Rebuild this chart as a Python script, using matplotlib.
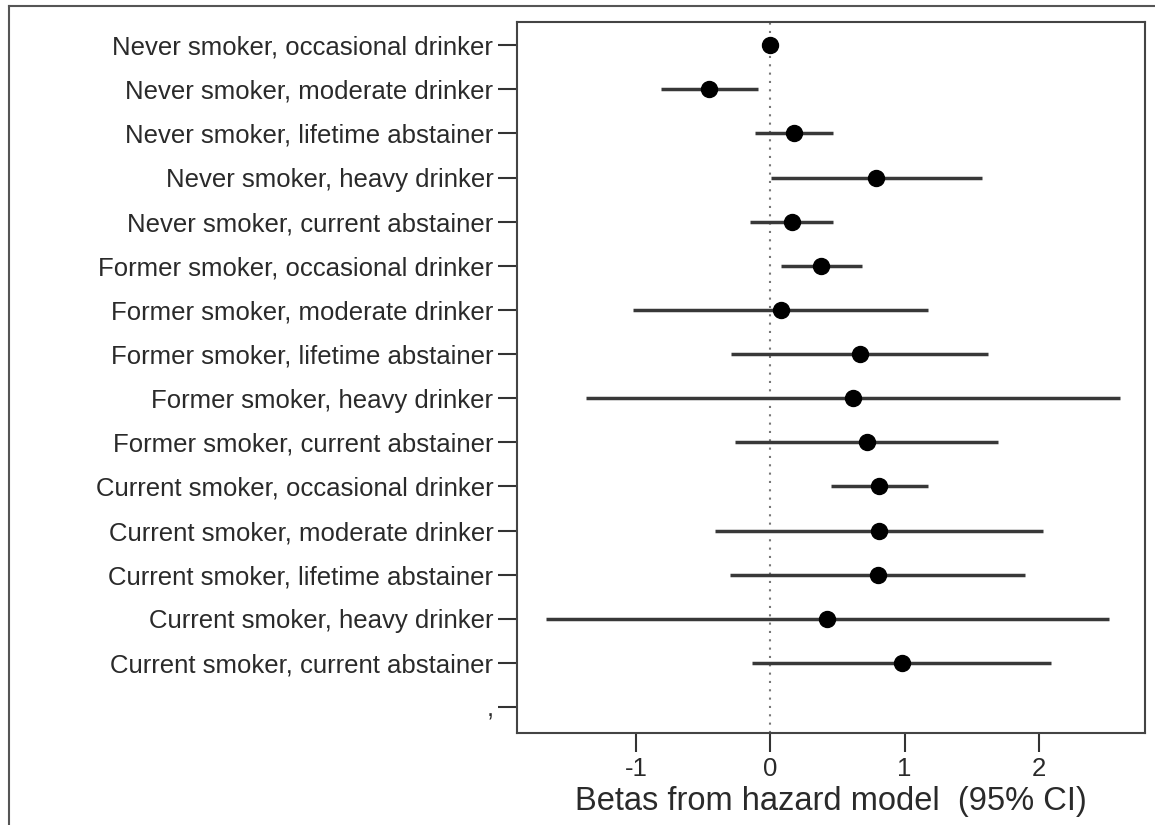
import numpy as np
import matplotlib.pyplot as plt
from matplotlib.lines import Line2D

plt.rcParams['font.family'] = ['Liberation Sans', 'DejaVu Sans']

# 범주 (위에서 아래 순서)
labels = ['Never smoker, occasional drinker',
          'Never smoker, moderate drinker',
          'Never smoker, lifetime abstainer',
          'Never smoker, heavy drinker',
          'Never smoker, current abstainer',
          'Former smoker, occasional drinker',
          'Former smoker, moderate drinker',
          'Former smoker, lifetime abstainer',
          'Former smoker, heavy drinker',
          'Former smoker, current abstainer',
          'Current smoker, occasional drinker',
          'Current smoker, moderate drinker',
          'Current smoker, lifetime abstainer',
          'Current smoker, heavy drinker',
          'Current smoker, current abstainer',
          ',']

# 추정값과 95% CI
beta = [0.0, -0.456, 0.179, 0.79, 0.163, 0.375, 0.077, 0.665, 0.616, 0.719,
        0.812, 0.812, 0.80, 0.425, 0.98]
lower = [0.0, -0.817, -0.117, 0.001, -0.149, 0.077, -1.027, -0.291, -1.377, -0.266,
         0.45, -0.41, -0.298, -1.674, -0.136]
upper = [0.0, -0.092, 0.469, 1.575, 0.469, 0.681, 1.176, 1.623, 2.61, 1.70,
         1.177, 2.034, 1.90, 2.526, 2.09]

fig = plt.figure(figsize=(11.55, 8.25), dpi=100)
ax = fig.add_axes([0.4476, 0.1115, 0.5434, 0.8615])

y = np.arange(len(beta))
ax.axvline(0, color='#777777', lw=1.5, ls=(0, (1, 3)), zorder=1)
ax.hlines(y, lower, upper, color='#383838', lw=2.5, zorder=2)
ax.plot(beta, y, 'o', color='black', ms=11.5, zorder=3)

ax.set_xlim(-1.89, 2.79)
ax.set_ylim(len(labels) - 1 + 0.59, -0.52)
ax.set_yticks(np.arange(len(labels)))
ax.set_yticklabels(labels)
ax.set_xticks([-1, 0, 1, 2])
ax.set_xticklabels(['-1', '0', '1', '2'])
ax.tick_params(axis='both', length=14, width=1.5, color='#333333',
               labelsize=18.5, labelcolor='#2a2a2a', pad=3)
ax.tick_params(axis='x', pad=3)
for s in ax.spines.values():
    s.set_color('#444444')
    s.set_linewidth(1.5)
ax.set_xlabel('Betas from hazard model  (95% CI)', fontsize=23.5,
              color='#2a2a2a', labelpad=4)

# 바깥 테두리 (위, 왼쪽)
fig.add_artist(Line2D([9/1155, 1], [1 - 6/825, 1 - 6/825], color='#555555', lw=1.5))
fig.add_artist(Line2D([9/1155, 9/1155], [0, 1 - 6/825], color='#555555', lw=1.5))

fig.savefig('out.png', dpi=100)
